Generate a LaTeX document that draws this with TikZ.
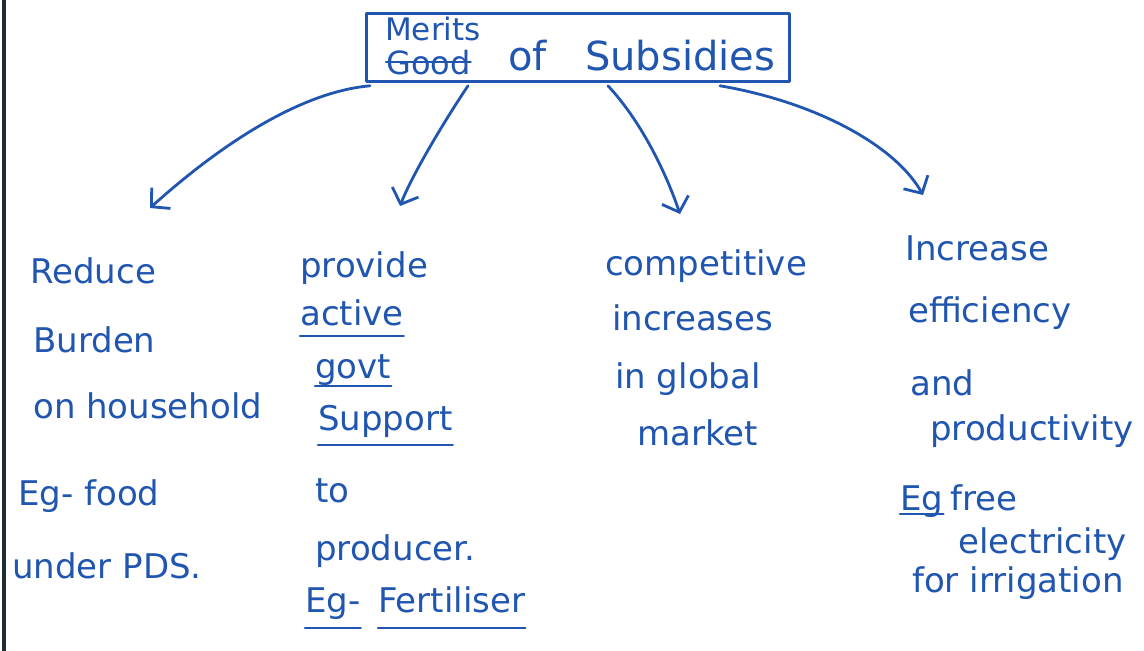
\documentclass[tikz,border=0pt]{standalone}
\usepackage{fontspec}
\setmainfont{DejaVu Sans}
\usetikzlibrary{arrows.meta}
\definecolor{ink}{RGB}{32,86,176}
\definecolor{edge}{RGB}{30,45,50}
\begin{document}
\begin{tikzpicture}[x=1pt,y=-1pt,
  inkline/.style={draw=ink, line width=2.8pt, line cap=round, line join=round},
  lbl/.style={anchor=base west, inner sep=0pt, text=ink, font=\fontsize{34}{40}\selectfont},
  arr/.style={inkline, -{Straight Barb[length=13pt,width=28pt,line width=2.8pt]}},
  ul/.style={draw=ink, line width=2.4pt, line cap=round}]
\useasboundingbox (0,0) rectangle (1144,651);
\fill[white] (0,0) rectangle (1144,651);
\draw[line width=4pt, draw=edge] (4,0) -- (4,651);

% title
\node[inkline, draw, minimum width=423pt, minimum height=68pt, inner sep=0pt, anchor=north west] (title) at (365,12) {};
\node[lbl, font=\fontsize{31}{36}\selectfont] (merits) at (385,40) {Merits};
\node[lbl, font=\fontsize{32}{36}\selectfont] (good) at (386,74) {Good};
\draw[ul] (good.west) -- (good.east);
\node[lbl, font=\fontsize{40}{44}\selectfont] (of) at (508,70) {of};
\node[lbl, font=\fontsize{40}{44}\selectfont] (subs) at (585,70) {Subsidies};

% column 1
\node[lbl] (c1a) at (30,283) {Reduce};
\node[lbl] (c1b) at (33,352) {Burden};
\node[lbl] (c1c) at (33,418) {on household};
\node[lbl] (c1d) at (18,505) {Eg- food};
\node[lbl] (c1e) at (12,578) {under PDS.};

% column 2
\node[lbl] (c2a) at (300,277) {provide};
\node[lbl] (c2b) at (300,325) {active};
\node[lbl] (c2c) at (315,378) {govt};
\node[lbl] (c2d) at (318,430) {Support};
\node[lbl] (c2e) at (315,502) {to};
\node[lbl] (c2f) at (315,560) {producer.};
\node[lbl] (c2g) at (305,612) {Eg-};
\node[lbl] (c2h) at (378,612) {Fertiliser};
\draw[ul] ([yshift=-11pt]c2b.base west) -- ([yshift=-11pt]c2b.base east);
\draw[ul] ([yshift=-8pt]c2c.base west) -- ([yshift=-8pt]c2c.base east);
\draw[ul] ([yshift=-15pt]c2d.base west) -- ([yshift=-15pt]c2d.base east);
\draw[ul] ([yshift=-16pt]c2g.base west) -- ([yshift=-16pt]c2g.base east);
\draw[ul] ([yshift=-16pt]c2h.base west) -- ([yshift=-16pt]c2h.base east);

% column 3
\node[lbl] (c3a) at (605,275) {competitive};
\node[lbl] (c3b) at (612,330) {increases};
\node[lbl] (c3c) at (615,388) {in global};
\node[lbl] (c3d) at (637,445) {market};

% column 4
\node[lbl] (c4a) at (905,260) {Increase};
\node[lbl] (c4b) at (908,322) {efficiency};
\node[lbl] (c4c) at (910,395) {and};
\node[lbl] (c4d) at (930,440) {productivity};
\node[lbl] (c4e) at (900,510) {Eg};
\node[lbl] (c4f) at (950,510) {free};
\node[lbl] (c4g) at (958,553) {electricity};
\node[lbl] (c4h) at (912,592) {for irrigation};
\draw[ul] ([yshift=-4pt]c4e.base west) -- ([yshift=-4pt]c4e.base east);

% arrows
\coordinate (t1) at (150,208);
\coordinate (t2) at (400,206);
\coordinate (t3) at (680,214);
\coordinate (t4) at (923,195);
\draw[arr] ([xshift=5pt,yshift=-3pt]title.south west) .. controls (300,92) and (220,145) .. (t1);
\draw[arr] ([xshift=103pt,yshift=-3pt]title.south west) .. controls (445,120) and (412,175) .. (t2);
\draw[arr] ([xshift=243pt,yshift=-3pt]title.south west) .. controls (640,120) and (665,170) .. (t3);
\draw[arr] ([xshift=355pt,yshift=-3pt]title.south west) .. controls (815,102) and (895,145) .. (t4);
\end{tikzpicture}
\end{document}
